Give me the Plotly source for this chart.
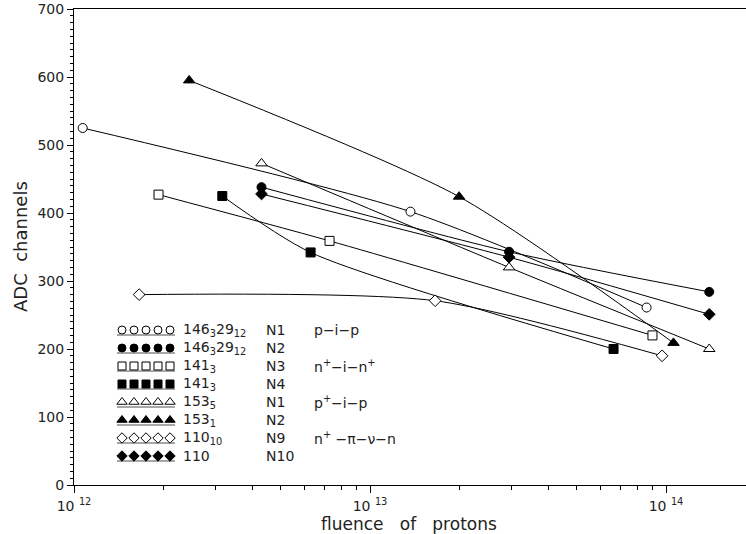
import numpy as np
import plotly.graph_objects as go

# ---- data (fluence in protons/cm^2, ADC channels) ----
oc_x = [1.07e12, 1.37e13, 8.6e13];  oc_y = [525, 402, 261]   # 146_3 29_12 N1
fc_x = [4.3e12, 2.95e13, 1.4e14];   fc_y = [438, 343, 284]   # 146_3 29_12 N2
os_x = [1.93e12, 7.3e12, 9.0e13];   os_y = [427, 359, 220]   # 141_3 N3
fs_x = [3.17e12, 6.3e12, 6.65e13];  fs_y = [425, 342, 200]   # 141_3 N4
ot_x = [4.3e12, 2.95e13, 1.4e14];   ot_y = [473, 320, 200]   # 153_5 N1
ft_x = [2.45e12, 2.0e13, 1.06e14];  ft_y = [595, 424, 209]   # 153_1 N2
od_x = [1.66e12, 1.66e13, 9.7e13];  od_y = [280, 271, 190]   # 110_10 N9
fd_x = [4.3e12, 2.95e13, 1.4e14];   fd_y = [428, 335, 251]   # 110 N10

series = [
    (oc_x, oc_y, "circle", False, "146<sub>3</sub>29<sub>12</sub>", "N1", "p−i−p"),
    (fc_x, fc_y, "circle", True,  "146<sub>3</sub>29<sub>12</sub>", "N2", ""),
    (os_x, os_y, "square", False, "141<sub>3</sub>", "N3", "n<sup>+</sup>−i−n<sup>+</sup>"),
    (fs_x, fs_y, "square", True,  "141<sub>3</sub>", "N4", ""),
    (ot_x, ot_y, "triangle-up", False, "153<sub>5</sub>", "N1", "p<sup>+</sup>−i−p"),
    (ft_x, ft_y, "triangle-up", True,  "153<sub>1</sub>", "N2", ""),
    (od_x, od_y, "diamond", False, "110<sub>10</sub>", "N9", "n<sup>+</sup> −π−ν−n"),
    (fd_x, fd_y, "diamond", True,  "110", "N10", ""),
]

x_tickvals = [1e12, 1e13, 1e14]
x_ticktext = ["10 <sup>12</sup>", "10 <sup>13</sup>", "10 <sup>14</sup>"]
x_minor = [m * 10.0**e for e in (12, 13, 14) for m in range(2, 10) if m * 10.0**e < 2e14]

FONT = "DejaVu Sans"
W, H = 746, 534
# plot area in page pixels: x 74..746, y 9..485
L, R, T, B = 74, 0, 9, 534 - 485
PW, PH = W - L - R, H - T - B
NB = "\u00a0"


def px(xp):  # pixel -> paper
    return (xp - L) / PW


def py(yp):
    return (H - B - yp) / PH


fig = go.Figure()

for xs, ys, sym, filled, *_ in series:
    fig.add_trace(go.Scatter(x=xs, y=ys, mode="lines",
                             line=dict(color="black", width=1, shape="spline", smoothing=0.7),
                             showlegend=False, hoverinfo="skip"))
for xs, ys, sym, filled, *_ in series:
    fig.add_trace(go.Scatter(x=xs, y=ys, mode="markers",
                             marker=dict(symbol=sym, size=9 if sym != "triangle-up" else 10,
                                         color="black" if filled else "white",
                                         line=dict(color="black", width=1)),
                             showlegend=False))

# ---- custom legend drawn on a pixel-space overlay axis ----
leg_y0, leg_dy = 330, 18
leg_mx = [122, 134, 146, 158, 170]
annotations = []
shapes = []
for i, (xs, ys, sym, filled, name, nlab, kind) in enumerate(series):
    yy = leg_y0 + i * leg_dy
    shapes.append(dict(type="line", xref="x2", yref="y2", x0=117, x1=175, y0=yy + 5, y1=yy + 5,
                       line=dict(color="#888888", width=1.5), layer="below"))
    fig.add_trace(go.Scatter(x=leg_mx, y=[yy] * len(leg_mx), xaxis="x2", yaxis="y2", mode="markers",
                             marker=dict(symbol=sym, size=8 if sym != "triangle-up" else 9,
                                         color="black" if filled else "white",
                                         line=dict(color="black", width=1)),
                             showlegend=False, hoverinfo="skip"))
    for xx, txt in ((181, name), (264, nlab), (312, kind)):
        if txt:
            annotations.append(dict(x=px(xx), y=py(yy), xref="paper", yref="paper", text=txt,
                                    showarrow=False, xanchor="left", yanchor="middle",
                                    font=dict(family=FONT, size=14, color="#222")))

annotations.append(dict(x=px(409), y=py(524), xref="paper", yref="paper",
                        text="fluence" + NB * 3 + "of" + NB * 3 + "protons",
                        showarrow=False, xanchor="center", yanchor="middle",
                        font=dict(family=FONT, size=17, color="#222")))
annotations.append(dict(x=px(20), y=py(246), xref="paper", yref="paper",
                        text="ADC" + NB * 2 + "channels",
                        textangle=-90, showarrow=False, xanchor="center", yanchor="middle",
                        font=dict(family=FONT, size=18, color="#222")))

fig.update_layout(
    width=W, height=H, margin=dict(l=L, r=R, t=T, b=B, autoexpand=False),
    plot_bgcolor="white", paper_bgcolor="white",
    font=dict(family=FONT, size=13, color="#222"),
    xaxis=dict(type="log", range=[12, 12 + PW / 296.0], automargin=False,
               tickvals=x_tickvals, ticktext=x_ticktext,
               ticks="outside", ticklen=7, tickcolor="black", ticklabelstandoff=1,
               minor=dict(tickvals=x_minor, ticks="outside", ticklen=4, tickcolor="black"),
               showline=True, linecolor="black", linewidth=1, mirror=True,
               showgrid=False, zeroline=False, tickfont=dict(size=14)),
    yaxis=dict(range=[0, 700], dtick=100, ticks="outside", ticklen=6, tickcolor="black",
               automargin=False,
               minor=dict(dtick=10, ticks="outside", ticklen=3, tickcolor="black"),
               showline=True, linecolor="black", linewidth=1,
               showgrid=False, zeroline=False, tickfont=dict(size=14)),
    xaxis2=dict(overlaying="x", range=[L, W - R], visible=False, fixedrange=True),
    yaxis2=dict(overlaying="y", range=[H - B, T], visible=False, fixedrange=True),
    annotations=annotations, shapes=shapes,
)

fig.write_html("out.html", config={"displayModeBar": False},
               post_script="document.body.style.margin='0';document.body.style.overflow='hidden';")
